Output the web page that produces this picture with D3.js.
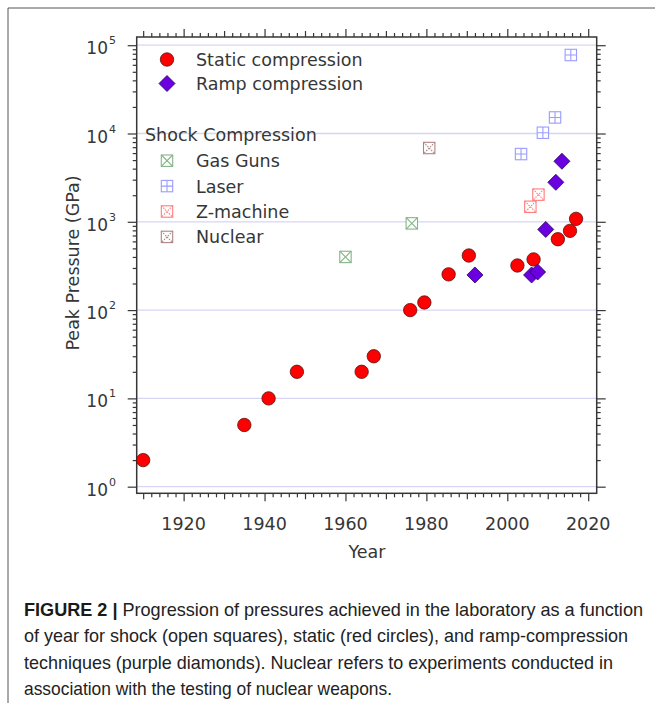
<!DOCTYPE html>
<html>
<head>
<meta charset="utf-8">
<script src="https://cdn.jsdelivr.net/npm/d3@7"></script>
<style>
  html, body { margin: 0; padding: 0; background: #fff; }
  svg { display: block; }
</style>
</head>
<body>
<script>
// Peak laboratory pressures by year and technique
const staticYears = [1910, 1935, 1941, 1948, 1964, 1967, 1976, 1979.5, 1985.5, 1990.5, 2002.5, 2006.5, 2012.5, 2015.5, 2017];
const staticGPa   = [2, 5, 10, 20, 20, 30, 100, 122, 254, 415, 320, 375, 635, 790, 1080];

const rampYears = [1992, 2006, 2007.5, 2009.5, 2012, 2013.5];
const rampGPa   = [250, 250, 270, 820, 2800, 4850];

const gasGunYears = [1960, 1976.4];
const gasGunGPa   = [400, 960];
const laserYears  = [2003.4, 2008.8, 2011.8, 2015.7];
const laserGPa    = [5850, 10200, 15200, 77500];
const zYears      = [2005.7, 2007.7];
const zGPa        = [1480, 2030];
const nuclearYears = [1980.7];
const nuclearGPa   = [6850];

const xTickLabels = [1920, 1940, 1960, 1980, 2000, 2020];
const yDecades = [0, 1, 2, 3, 4, 5];

const captionLines = [
  ["FIGURE 2 |", " Progression of pressures achieved in the laboratory as a function"],
  ["", "of year for shock (open squares), static (red circles), and ramp-compression"],
  ["", "techniques (purple diamonds). Nuclear refers to experiments conducted in"],
  ["", "association with the testing of nuclear weapons."]
];

const W = 657, H = 703;
const FONT = "'DejaVu Sans', Verdana, sans-serif";
const INK = "#363636";

const svg = d3.select("body").append("svg").attr("width", W).attr("height", H);

// figure box corner (top and left rules)
svg.append("line").attr("x1", 8).attr("x2", 655).attr("y1", 8).attr("y2", 8)
  .attr("stroke", "#555").attr("stroke-width", 1);
svg.append("line").attr("x1", 8).attr("x2", 8).attr("y1", 8).attr("y2", H)
  .attr("stroke", "#555").attr("stroke-width", 1);

const L = 136.7, R = 596.7, T = 37, B = 493.3;
const x = d3.scaleLinear().domain([1908.4, 2022.1]).range([L, R]);
const y = d3.scaleLog().domain([Math.pow(10, -0.075), Math.pow(10, 5.093)]).range([B, T]);

// decade grid lines
svg.append("g").selectAll("line").data(yDecades).join("line")
  .attr("x1", L).attr("x2", R)
  .attr("y1", d => y(Math.pow(10, d))).attr("y2", d => y(Math.pow(10, d)))
  .attr("stroke", "#d6d6f4").attr("stroke-width", 1.3);

// tick sets
const years2 = d3.range(1910, 2022, 2);
const years10 = years2.filter(v => v % 10 === 0 && v % 20 !== 0);
const years20 = years2.filter(v => v % 20 === 0);
const yearsMinor = years2.filter(v => v % 10 !== 0);
const minorP = [];
for (let d = 0; d < 5; d++) for (let m = 2; m <= 9; m++) minorP.push(m * Math.pow(10, d));
const majorP = yDecades.map(d => Math.pow(10, d));

function styleAxis(g) {
  g.select(".domain").remove();
  g.selectAll(".tick line").attr("stroke", INK).attr("stroke-width", 1.2);
  g.selectAll(".tick text").remove();
}
function addAxis(axisFn, scale, values, size, tx, ty) {
  svg.append("g").attr("transform", `translate(${tx},${ty})`)
    .call(axisFn(scale).tickValues(values).tickSize(size).tickFormat(""))
    .call(styleAxis);
}
// bottom and top
addAxis(d3.axisBottom, x, yearsMinor, 4, 0, B);
addAxis(d3.axisBottom, x, years10, 6, 0, B);
addAxis(d3.axisBottom, x, years20, 8, 0, B);
addAxis(d3.axisTop, x, yearsMinor, 4, 0, T);
addAxis(d3.axisTop, x, years10, 6, 0, T);
addAxis(d3.axisTop, x, years20, 8, 0, T);
// left and right
addAxis(d3.axisLeft, y, minorP, 4, L, 0);
addAxis(d3.axisLeft, y, majorP, 9, L, 0);
addAxis(d3.axisRight, y, minorP, 4, R, 0);
addAxis(d3.axisRight, y, majorP, 9, R, 0);

// plot frame
svg.append("rect").attr("x", L).attr("y", T).attr("width", R - L).attr("height", B - T)
  .attr("fill", "none").attr("stroke", INK).attr("stroke-width", 1.5);

// x tick labels
svg.append("g").selectAll("text").data(xTickLabels).join("text")
  .attr("x", d => x(d)).attr("y", 530)
  .attr("text-anchor", "middle")
  .attr("font-family", FONT).attr("font-size", 17.5).attr("fill", INK)
  .text(d => d);

// y tick labels: 10 with superscript exponent
svg.append("g").selectAll("text").data(yDecades).join("text")
  .attr("x", 108).attr("y", d => y(Math.pow(10, d)) + 9)
  .attr("text-anchor", "end")
  .attr("font-family", FONT).attr("font-size", 17).attr("fill", INK)
  .text("10");
svg.append("g").selectAll("text").data(yDecades).join("text")
  .attr("x", 109).attr("y", d => y(Math.pow(10, d)) - 1)
  .attr("font-family", FONT).attr("font-size", 11).attr("fill", INK)
  .text(d => d);

// axis titles
svg.append("text").attr("x", 367).attr("y", 558).attr("text-anchor", "middle")
  .attr("font-family", FONT).attr("font-size", 17.5).attr("fill", INK).text("Year");
svg.append("text").attr("transform", "translate(79,263) rotate(-90)").attr("text-anchor", "middle")
  .attr("font-family", FONT).attr("font-size", 17.5).attr("fill", INK).text("Peak Pressure (GPa)");

// marker helpers
const RED = "#ff0000", PURPLE = "#6a00e0";
function circles(g, xs, ys) {
  g.selectAll("circle").data(xs.map((v, i) => [v, ys[i]])).join("circle")
    .attr("cx", d => x(d[0])).attr("cy", d => y(d[1])).attr("r", 6.7)
    .attr("fill", RED).attr("stroke", "#5a1010").attr("stroke-width", 0.8);
}
function diamonds(g, xs, ys) {
  const s = 8;
  g.selectAll("path").data(xs.map((v, i) => [v, ys[i]])).join("path")
    .attr("d", d => {
      const cx = x(d[0]), cy = y(d[1]);
      return `M${cx},${cy - s}L${cx + s},${cy}L${cx},${cy + s}L${cx - s},${cy}Z`;
    })
    .attr("fill", PURPLE).attr("stroke", "#2a0060").attr("stroke-width", 0.8);
}
function squareAt(g, cx, cy, color, kind) {
  const h = 5.7;
  const gg = g.append("g").attr("stroke", color).attr("fill", "none").attr("stroke-width", 1.1);
  gg.append("rect").attr("x", cx - h).attr("y", cy - h).attr("width", 2 * h).attr("height", 2 * h)
    .attr("fill", "#fff");
  if (kind === "plus") {
    gg.append("path").attr("d", `M${cx - h},${cy}H${cx + h}M${cx},${cy - h}V${cy + h}`);
  } else {
    gg.append("path").attr("d", `M${cx - h},${cy - h}L${cx + h},${cy + h}M${cx + h},${cy - h}L${cx - h},${cy + h}`)
      .attr("stroke-dasharray", kind === "dots" ? "1.5,1.2" : null);
  }
}
function squares(g, xs, ys, color, kind) {
  xs.forEach((v, i) => squareAt(g, x(v), y(ys[i]), color, kind));
}

const GREEN = "#86b486", BLUE = "#9a9cff", ZRED = "#ff7c7c", BROWN = "#b08484";

const marks = svg.append("g");
squares(marks, gasGunYears, gasGunGPa, GREEN, "x");
squares(marks, laserYears, laserGPa, BLUE, "plus");
squares(marks, zYears, zGPa, ZRED, "dots");
squares(marks, nuclearYears, nuclearGPa, BROWN, "dots");
circles(marks.append("g"), staticYears, staticGPa);
diamonds(marks.append("g"), rampYears, rampGPa);

// legend
const lg = svg.append("g").attr("font-family", FONT).attr("font-size", 17.5).attr("fill", INK);
lg.append("circle").attr("cx", 167).attr("cy", 59.5).attr("r", 6.7)
  .attr("fill", RED).attr("stroke", "#5a1010").attr("stroke-width", 0.8);
lg.append("text").attr("x", 196).attr("y", 66).text("Static compression");
lg.append("path").attr("d", "M167,75.5L175,83.5L167,91.5L159,83.5Z")
  .attr("fill", PURPLE).attr("stroke", "#2a0060").attr("stroke-width", 0.8);
lg.append("text").attr("x", 196).attr("y", 90).text("Ramp compression");
lg.append("text").attr("x", 145).attr("y", 141).text("Shock Compression");
const shockLegend = [["Gas Guns", GREEN, "x"], ["Laser", BLUE, "plus"], ["Z-machine", ZRED, "dots"], ["Nuclear", BROWN, "dots"]];
shockLegend.forEach((d, i) => {
  const cy = 160.7 + i * 25.4;
  squareAt(lg, 167, cy, d[1], d[2]);
  lg.append("text").attr("x", 196).attr("y", cy + 6.5).text(d[0]);
});

// caption
const capFont = "'Liberation Sans Narrow', 'Arial Narrow', 'Liberation Sans', sans-serif";
const capW = [619, 604, 589, 368];
captionLines.forEach((ln, i) => {
  const t = svg.append("text").attr("x", 24).attr("y", 616 + i * 26.4)
    .attr("font-family", capFont).attr("font-size", 18.5).attr("fill", "#222")
    .attr("textLength", capW[i]).attr("lengthAdjust", "spacingAndGlyphs");
  if (ln[0]) t.append("tspan").attr("font-weight", "bold").attr("fill", "#1a1a1a").text(ln[0]);
  t.append("tspan").attr("font-weight", 300).text(ln[1]);
});
</script>
</body>
</html>
